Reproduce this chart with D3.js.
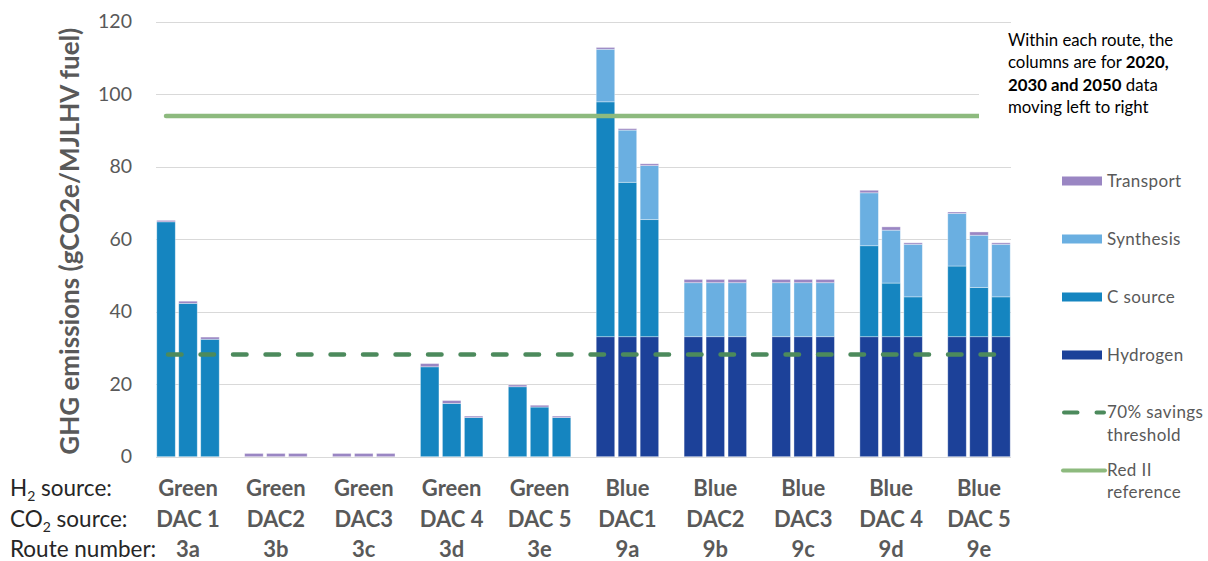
<!DOCTYPE html>
<html>
<head>
<meta charset="utf-8">
<script src="https://cdn.jsdelivr.net/npm/d3@7/dist/d3.min.js"></script>
<style>
  html, body { margin: 0; padding: 0; background: #fff; }
  svg { display: block; font-family: Lato, "Liberation Sans", sans-serif; }
</style>
</head>
<body>
<svg id="chart" width="1208" height="561"></svg>
<script>
// ---------- data ----------
const routes    = ["3a", "3b", "3c", "3d", "3e", "9a", "9b", "9c", "9d", "9e"];
const h2Source  = ["Green", "Green", "Green", "Green", "Green", "Blue", "Blue", "Blue", "Blue", "Blue"];
const co2Source = ["DAC 1", "DAC2", "DAC3", "DAC 4", "DAC 5", "DAC1", "DAC2", "DAC3", "DAC 4", "DAC 5"];
const years     = [2020, 2030, 2050];

// values per route, 3 years each (2020, 2030, 2050)
const hydrogen  = [0,0,0, 0,0,0, 0,0,0, 0,0,0, 0,0,0,
                   33.1,33.1,33.1, 33.1,33.1,33.1, 33.1,33.1,33.1, 33.1,33.1,33.1, 33.1,33.1,33.1];
const cSource   = [64.8,42.3,32.4, 0,0,0, 0,0,0, 24.8,14.7,10.8, 19.3,13.7,10.8,
                   64.8,42.6,32.3, 0,0,0, 0,0,0, 25.1,14.8,11.0, 19.5,13.6,11.0];
const synthesis = [0,0,0, 0,0,0, 0,0,0, 0,0,0, 0,0,0,
                   14.5,14.4,14.9, 14.9,14.9,14.9, 14.9,14.9,14.9, 14.6,14.6,14.5, 14.5,14.4,14.5];
const transport = [0.4,0.6,0.6, 0.9,0.9,0.9, 0.9,0.9,0.9, 0.9,0.8,0.4, 0.5,0.5,0.4,
                   0.5,0.4,0.5, 0.9,0.9,0.9, 0.9,0.9,0.9, 0.7,0.9,0.4, 0.4,0.9,0.4];

const redIIReference = 94;
const savingsThreshold = 28.2;

const yTicks = [0, 20, 40, 60, 80, 100, 120];
const seriesNames = ["Hydrogen", "C source", "Synthesis", "Transport"];
const seriesColors = ["#1c4199", "#1585c0", "#6aafe1", "#9a86c3"];

// ---------- layout ----------
const svg = d3.select("#chart");
const plot = { left: 156, right: 1011, top: 21.7, bottom: 456.7 };

// slots: 3 bars per route, a blank slot between routes
const slots = [];
routes.forEach((r, i) => {
  years.forEach(y => slots.push(r + "-" + y));
  if (i < routes.length - 1) slots.push("gap-" + i);
});

const x = d3.scaleBand().domain(slots).range([plot.left, plot.right])
  .paddingInner(0.157).paddingOuter(0.035);
const y = d3.scaleLinear().domain([0, 120]).range([plot.bottom, plot.top]);

// gridlines
svg.append("g").selectAll("line").data(yTicks).join("line")
  .attr("x1", plot.left).attr("x2", plot.right)
  .attr("y1", d => Math.round(y(d)) + 0.5).attr("y2", d => Math.round(y(d)) + 0.5)
  .attr("stroke", "#d9d9d9").attr("stroke-width", 1);

// y axis labels
const yAxis = d3.axisLeft(y).tickValues(yTicks).tickSize(0).tickPadding(0);
const yg = svg.append("g").attr("transform", "translate(132,0)").call(yAxis);
yg.select(".domain").remove();
yg.selectAll("text").attr("fill", "#595959").style("font-size", "19.5px")
  .style("font-family", "Lato, sans-serif");

// y title
svg.append("text")
  .attr("transform", "translate(79," + ((plot.top + plot.bottom) / 2 + 2) + ") rotate(-90)")
  .attr("text-anchor", "middle")
  .attr("fill", "#595959").style("font-size", "26px").style("font-weight", "bold")
  .text("GHG emissions (gCO2e/MJLHV fuel)");

// stacked bars
const rows = slots.filter(s => !s.startsWith("gap")).map((key, i) => ({
  key, Hydrogen: hydrogen[i], "C source": cSource[i], Synthesis: synthesis[i], Transport: transport[i]
}));
const stack = d3.stack().keys(seriesNames)(rows);
svg.append("g").selectAll("g").data(stack).join("g")
  .attr("fill", (d, i) => seriesColors[i])
  .selectAll("rect").data(d => d.filter(p => p[1] - p[0] > 0)).join("rect")
  .attr("x", d => x(d.data.key)).attr("width", x.bandwidth())
  .attr("y", d => y(d[1])).attr("height", d => y(d[0]) - y(d[1]))
  .attr("stroke", "#ffffff").attr("stroke-opacity", 0.45).attr("stroke-width", 0.8);

// reference lines across category centres
const firstC = x(slots[0]) + x.bandwidth() / 2;
const lastC = x(slots[slots.length - 1]) + x.bandwidth() / 2;
svg.append("line")
  .attr("x1", firstC).attr("x2", lastC)
  .attr("y1", y(redIIReference)).attr("y2", y(redIIReference))
  .attr("stroke", "#8dba7e").attr("stroke-width", 4.5).attr("stroke-linecap", "round");
svg.append("line")
  .attr("x1", firstC + 2).attr("x2", lastC)
  .attr("y1", y(savingsThreshold)).attr("y2", y(savingsThreshold))
  .attr("stroke", "#4c8a5c").attr("stroke-width", 4.5).attr("stroke-linecap", "round")
  .attr("stroke-dasharray", "13.5,19");

// annotation box (covers plot right corner)
svg.append("rect").attr("x", 979).attr("y", 25).attr("width", 229).attr("height", 94).attr("fill", "#fff");
const note = svg.append("text").attr("x", 1008).attr("fill", "#000").style("font-size", "16.8px");
const noteLines = [
  [["Within each route, the", false]],
  [["columns are for ", false], ["2020,", true]],
  [["2030 and 2050", true], [" data", false]],
  [["moving left to right", false]]
];
noteLines.forEach((ln, i) => {
  ln.forEach((seg, j) => {
    const t = note.append("tspan").text(seg[0]).style("font-weight", seg[1] ? "bold" : "normal");
    if (j === 0) t.attr("x", 1008).attr("y", 46 + i * 22.3);
  });
});

// category labels
const rowY = [495.5, 527, 557];
const groupCenter = r => (x(r + "-" + years[0]) + x(r + "-" + years[2]) + x.bandwidth()) / 2;
const catRows = [h2Source, co2Source, routes];
catRows.forEach((arr, k) => {
  svg.append("g").selectAll("text").data(routes).join("text")
    .attr("x", r => groupCenter(r)).attr("y", rowY[k])
    .attr("text-anchor", "middle").attr("fill", "#595959")
    .style("font-size", "22px").style("font-weight", "bold")
    .text((r, i) => arr[i]);
});
const rowLabels = [["H", "2", " source:"], ["CO", "2", " source:"], ["Route number:", "", ""]];
rowLabels.forEach((parts, k) => {
  const t = svg.append("text").attr("x", 10).attr("y", rowY[k]).attr("fill", "#262626").style("font-size", "22.5px");
  t.append("tspan").text(parts[0]);
  if (parts[1]) {
    t.append("tspan").text(parts[1]).style("font-size", "14px").attr("dy", 5);
    t.append("tspan").text(parts[2]).attr("dy", -5);
  }
});

// legend
const legend = svg.append("g").style("font-size", "17px").style("letter-spacing", "0.4px").attr("fill", "#595959");
const legItems = [
  { name: "Transport", color: seriesColors[3], yc: 181 },
  { name: "Synthesis", color: seriesColors[2], yc: 239 },
  { name: "C source", color: seriesColors[1], yc: 297 },
  { name: "Hydrogen", color: seriesColors[0], yc: 355 }
];
legItems.forEach(it => {
  legend.append("rect").attr("x", 1062).attr("y", it.yc - 4.5).attr("width", 40).attr("height", 9).attr("fill", it.color);
  legend.append("text").attr("x", 1107).attr("y", it.yc + 6).text(it.name);
});
legend.append("line").attr("x1", 1064).attr("x2", 1104).attr("y1", 412.5).attr("y2", 412.5)
  .attr("stroke", "#4c8a5c").attr("stroke-width", 4).attr("stroke-linecap", "round").attr("stroke-dasharray", "13.5,19");
legend.append("text").attr("x", 1107).attr("y", 418).text("70% savings");
legend.append("text").attr("x", 1107).attr("y", 441).text("threshold");
legend.append("line").attr("x1", 1063).attr("x2", 1105).attr("y1", 470.5).attr("y2", 470.5)
  .attr("stroke", "#8dba7e").attr("stroke-width", 4).attr("stroke-linecap", "round");
legend.append("text").attr("x", 1107).attr("y", 476).text("Red II");
legend.append("text").attr("x", 1107).attr("y", 498).text("reference");
</script>
</body>
</html>
